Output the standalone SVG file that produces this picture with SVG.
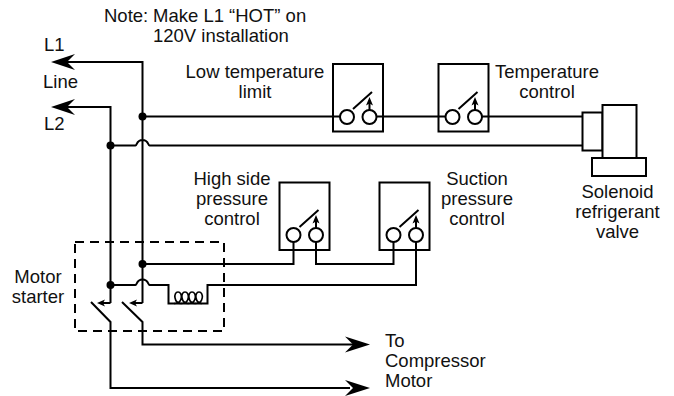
<svg xmlns="http://www.w3.org/2000/svg" width="674" height="396" viewBox="0 0 674 396">
<style>
text{font-family:"Liberation Sans",Arial,sans-serif;font-size:18.500px;fill:#111}
.m{text-anchor:middle}
.w{fill:none;stroke:#000;stroke-width:2}
.b{fill:#fff;stroke:#000;stroke-width:2}
.c{fill:#fff;stroke:#000;stroke-width:2}
.a{fill:#000;stroke:none}
</style>
<defs>
<g id="sw"><circle class="c" cx="0" cy="0" r="7"/><circle class="c" cx="22.500" cy="0" r="7"/><path class="w" d="M6-8L25-25M22.500-7V-15"/><path class="a" d="M22.500-20L26-11.500L22.500-13.500L19-11.500Z"/></g>
</defs>
<g id="motor-starter"><rect x="75" y="242" width="149" height="89" fill="none" stroke="#000" stroke-width="2" stroke-dasharray="9 6"/><text class="m" x="38" y="283">Motor</text><text class="m" x="38" y="303">starter</text></g>
<g id="low-temp"><rect class="b" x="333" y="64" width="50" height="67.500"/><use href="#sw" x="347" y="117"/><text class="m" x="255" y="78">Low temperature</text><text class="m" x="255" y="98">limit</text></g>
<g id="temp-control"><rect class="b" x="438.500" y="64" width="50" height="67.500"/><use href="#sw" x="452.500" y="117"/><text class="m" x="547" y="78">Temperature</text><text class="m" x="547" y="98">control</text></g>
<g id="high-side"><rect class="b" x="279.500" y="182.500" width="50" height="67.500"/><use href="#sw" x="293.500" y="235"/><text class="m" x="232" y="185">High side</text><text class="m" x="232" y="205">pressure</text><text class="m" x="232" y="225">control</text></g>
<g id="suction"><rect class="b" x="379.500" y="182.500" width="50" height="67.500"/><use href="#sw" x="393.500" y="235"/><text class="m" x="477" y="185">Suction</text><text class="m" x="477" y="205">pressure</text><text class="m" x="477" y="225">control</text></g>
<g id="solenoid"><rect class="b" x="582.500" y="112.500" width="20" height="38"/><rect class="b" x="602.500" y="105" width="34" height="53"/><rect class="b" x="592" y="158" width="54" height="18"/><text class="m" x="617.500" y="198">Solenoid</text><text class="m" x="617.500" y="218">refrigerant</text><text class="m" x="617.500" y="238">valve</text></g>
<g id="connectors">
<path class="w" d="M60 62H142.500V303M60 107H110.500V303M142.500 116.500H340M376.500 116.500H445.500M482 116.500H582.500M110.500 145.500H135.500C137 145.500 136.500 140 142.500 140C148.500 140 148 145.500 149.500 145.500H582.500"/>
<path class="w" d="M142.500 264H293.500V242M316 242V264H393.500V242M416 242V285H207.500V303.500H168.500V285H149.500C148 285 148.500 279.500 142.500 279.500C136.500 279.500 137 285 135.500 285H110.500"/>
<path class="w" d="M110.500 303H102M142.500 303H134M91 302L110.500 322V388H350M122 302L142.500 322V344.500H360"/>
<path fill="none" stroke="#000" stroke-width="1.600" d="M174 303.500C183 304 183 292 178 292C173 292 174 303.500 181 303.500C190 304 190 292 185 292C180 292 181 303.500 188 303.500C197 304 197 292 192 292C187 292 188 303.500 195 303.500C204 304 204 292 199 292C194 292 195 303.500 202 303.500"/>
<path class="a" d="M51 62L75 54L67 62L75 70ZM51 107L75 99L67 107L75 115ZM97 303L105 299.500L103 303L105 306.500ZM129 303L137 299.500L135 303L137 306.500ZM370 344.500L345 336.500L353 344.500L345 352.500ZM370 388L345 380L353 388L345 396Z"/>
<circle class="a" cx="142.500" cy="116.500" r="4"/><circle class="a" cx="110.500" cy="145.500" r="4"/><circle class="a" cx="142.500" cy="264" r="4"/><circle class="a" cx="110.500" cy="285" r="4"/>
</g>
<g id="labels">
<text x="104" y="22">Note:</text><text x="153" y="22">Make L1 “HOT” on</text><text x="153" y="42">120V installation</text>
<text x="44" y="51">L1</text><text x="43" y="88">Line</text><text x="44" y="130">L2</text>
<text x="385" y="347">To</text><text x="385" y="367">Compressor</text><text x="385" y="387">Motor</text>
</g>
</svg>
